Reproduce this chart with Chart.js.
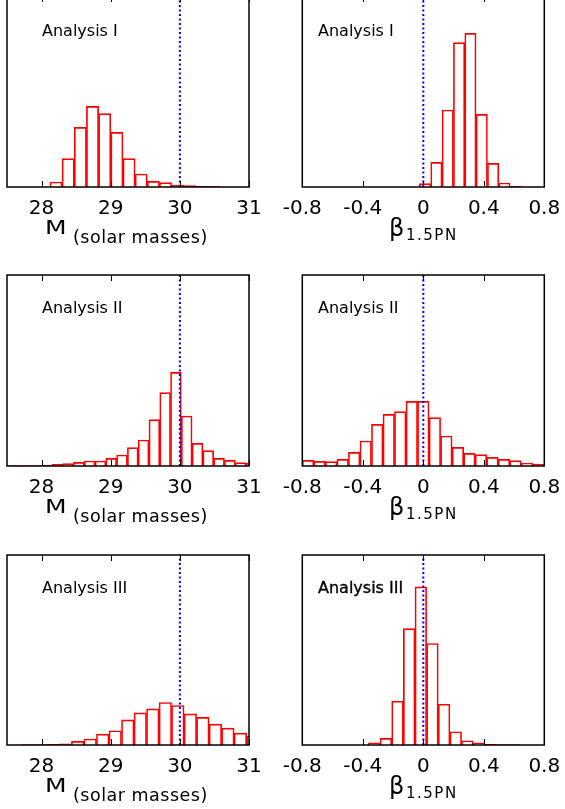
<!DOCTYPE html>
<html>
<head>
<meta charset="utf-8">
<script src="https://cdn.jsdelivr.net/npm/chart.js@4"></script>
<style>
  body { margin: 0; background: #fff; width: 565px; height: 809px; overflow: hidden; position: relative; font-family: "DejaVu Sans", sans-serif; }
  canvas { position: absolute; }
  .lbl { position: absolute; white-space: nowrap; line-height: 1; color: #000; }
  .ana { font-size: 16px; }
  .heavy { -webkit-text-stroke: 0.35px #000; }
  .m { font-size: 20px; transform: scaleX(1.25); transform-origin: left top; }
  .sm { font-size: 17.5px; letter-spacing: 0.5px; }
  .beta { font-size: 24px; }
  .sub { font-size: 15px; letter-spacing: 1.5px; }
</style>
</head>
<body>
<canvas id="m1" width="280" height="230"></canvas>
<canvas id="b1" width="285" height="230"></canvas>
<canvas id="m2" width="280" height="230"></canvas>
<canvas id="b2" width="285" height="230"></canvas>
<canvas id="m3" width="280" height="229"></canvas>
<canvas id="b3" width="285" height="229"></canvas>
<script>
// analysis names, one per row
const panelNames = ['Analysis I', 'Analysis II', 'Analysis III'];

// chirp mass histograms (bin start, bin width, heights)
const massBinStart = [28.121, 27.525, 27.708];
const massBinWidth = [0.176, 0.156, 0.181];
const massCountsI = [5, 28.3, 59.7, 80.7, 73.3, 54.7, 28.3, 13, 5.7, 4.3, 2, 1.3, 0.7, 0.7];
const massCountsII = [0.3, 0.3, 0.5, 0.7, 1.7, 2.3, 3.7, 5, 5, 7.7, 11, 18.3, 26, 46.3, 73.3, 93.7, 50, 22.7, 15.3, 7.7, 5.7, 3.3, 2.7];
const massCountsIII = [0.5, 0.5, 0.7, 1.3, 3.7, 6, 11, 14.3, 25.3, 32.3, 36.3, 42.7, 39.7, 31.3, 27.7, 21, 17, 12, 9.3];

// beta_1.5PN histograms
const betaBinStart = [-0.026, -0.8, -0.363];
const betaBinWidth = [0.075, 0.0762, 0.077];
const betaCountsI = [3.3, 24.7, 77, 144.3, 153.7, 72.7, 23.7, 4, 0.7];
const betaCountsII = [5.7, 4.7, 4.3, 6.7, 13.7, 25, 41.7, 51.7, 54.3, 64.7, 64.7, 48.3, 30, 18.7, 12.7, 11.3, 8.7, 6.7, 5.3, 3, 2];
const betaCountsIII = [2.3, 6.7, 44, 117, 159, 102, 41, 13.3, 4.3, 2.3, 0.7, 0.5, 0.5];

// injected values (blue dotted lines)
const trueMass = 30;
const trueBeta = 0;

// tick labels
const massTicks = [28, 29, 30, 31];
const betaTicks = [-0.8, -0.4, 0, 0.4, 0.8];
const massRange = [27.5, 31];
const betaRange = [-0.8, 0.8];
const yMax = 191;

const massCounts = [massCountsI, massCountsII, massCountsIII];
const betaCounts = [betaCountsI, betaCountsII, betaCountsIII];

// box + inward ticks
const frame = {
  id: 'frame',
  afterDatasetsDraw(chart) {
    const { ctx, chartArea: a, scales } = chart;
    ctx.save();
    ctx.strokeStyle = '#000';
    ctx.lineWidth = 1;
    scales.x.ticks.forEach(t => {
      const px = Math.round(scales.x.getPixelForValue(t.value)) + 0.5;
      ctx.beginPath();
      ctx.moveTo(px, a.top); ctx.lineTo(px, a.top + 6);
      ctx.moveTo(px, a.bottom); ctx.lineTo(px, a.bottom - 6);
      ctx.stroke();
    });
    ctx.lineWidth = 1.5;
    ctx.strokeRect(a.left, a.top, a.right - a.left, a.bottom - a.top);
    ctx.restore();
  }
};

function makePanel(id, left, top, counts, start, width, range, ticks, truth, pad) {
  const el = document.getElementById(id);
  el.style.left = left + 'px';
  el.style.top = top + 'px';
  const bars = counts.map((c, i) => ({ x: start + (i + 0.5) * width, y: c }));
  new Chart(el, {
    data: {
      datasets: [
        {
          type: 'line',
          data: [{ x: truth, y: 0 }, { x: truth, y: yMax }],
          borderColor: '#0000ff',
          borderWidth: 2,
          borderDash: [2, 2.5],
          pointRadius: 0,
          order: 0
        },
        {
          type: 'bar',
          data: bars,
          borderColor: '#ff0000',
          borderWidth: 1,
          backgroundColor: 'rgba(255,255,255,0)',
          barPercentage: 1,
          categoryPercentage: 1,
          order: 1
        }
      ]
    },
    options: {
      responsive: false,
      animation: false,
      layout: { padding: pad },
      plugins: { legend: { display: false }, tooltip: { enabled: false } },
      scales: {
        x: {
          type: 'linear',
          offset: false,
          min: range[0],
          max: range[1],
          grid: { display: false, offset: false },
          border: { display: false },
          afterBuildTicks: s => { s.ticks = ticks.map(v => ({ value: v })); },
          afterFit: s => { s.height = 33; },
          ticks: {
            color: '#000',
            padding: 2,
            maxRotation: 0,
            font: { family: 'DejaVu Sans', size: 20 }
          }
        },
        y: { min: 0, max: yMax, display: false }
      }
    },
    plugins: [frame]
  });
}

const rowTops = [-10, 269, 549];
const bottoms = [187, 466, 745];
for (let r = 0; r < 3; r++) {
  makePanel('m' + (r + 1), 0, rowTops[r], massCounts[r], massBinStart[r], massBinWidth[r],
    massRange, massTicks, trueMass, { left: 7, right: 31, top: 6, bottom: 0 });
  makePanel('b' + (r + 1), 280, rowTops[r], betaCounts[r], betaBinStart[r], betaBinWidth[r],
    betaRange, betaTicks, trueBeta, { left: 22.3, right: 20.7, top: 6, bottom: 0 });
}

// text labels
function addLabel(cls, html, left, top) {
  const d = document.createElement('div');
  d.className = 'lbl ' + cls;
  d.innerHTML = html;
  d.style.left = left + 'px';
  d.style.top = top + 'px';
  document.body.appendChild(d);
}
const anaTops = [23, 300, 580];
for (let r = 0; r < 3; r++) {
  addLabel('ana', panelNames[r], 42, anaTops[r]);
  addLabel(r === 2 ? 'ana heavy' : 'ana', panelNames[r], 318, anaTops[r]);
  const B = bottoms[r];
  addLabel('m', 'M', 45, B + 30);
  addLabel('sm', '(solar masses)', 73, B + 41.5);
  addLabel('beta', 'β', 389, B + 29);
  addLabel('sub', '1.5PN', 406, B + 41.3);
}
</script>
</body>
</html>
